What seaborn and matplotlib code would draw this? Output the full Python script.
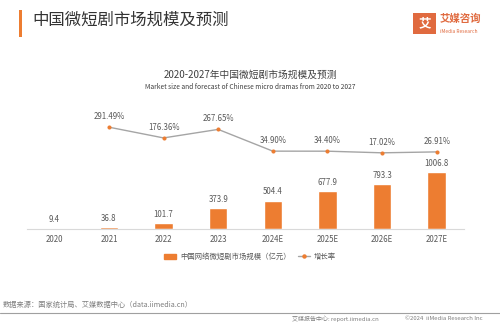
import numpy as np
import pandas as pd
import matplotlib
matplotlib.use("Agg")
import matplotlib.pyplot as plt
import seaborn as sns
from matplotlib.patches import Rectangle
from matplotlib.lines import Line2D

years = ["2020", "2021", "2022", "2023", "2024E", "2025E", "2026E", "2027E"]
market_size = [9.4, 36.8, 101.7, 373.9, 504.4, 677.9, 793.3, 1006.8]
growth = [np.nan, 291.49, 176.36, 267.65, 34.90, 34.40, 17.02, 26.91]
growth_labels = ["", "291.49%", "176.36%", "267.65%", "34.90%", "34.40%", "17.02%", "26.91%"]

sns.set_theme(style="white")
plt.rcParams['font.family'] = ['Noto Sans CJK SC', 'DejaVu Sans']

ORANGE = "#ED7D31"
GRAY = "#A5A5A5"
TXT = "#595959"

df = pd.DataFrame({"year": years, "size": market_size, "growth": growth,
                   "pos": np.arange(len(years))})

fig = plt.figure(figsize=(5, 3.24), dpi=100)
fig.patch.set_facecolor("white")

ax = fig.add_axes([0.054, 0.293, 0.874, 0.398])
sns.barplot(data=df, x="year", y="size", color=ORANGE, width=0.34,
            saturation=1, ax=ax, order=years)
ax.set_xlim(-0.5, len(years) - 0.5)
ax.set_ylim(0, 2280)
ax.set_xlabel("")
ax.set_ylabel("")
ax.set_yticks([])
for s in ["top", "right", "left"]:
    ax.spines[s].set_visible(False)
ax.spines["bottom"].set_color("#D9D9D9")
ax.spines["bottom"].set_linewidth(0.8)
ax.tick_params(axis="x", length=0, labelsize=5.7, colors=TXT, pad=4)
for i, v in enumerate(market_size):
    ax.annotate(f"{v:g}", (i, v), xytext=(0, 3),
                textcoords="offset points", ha="center", va="bottom",
                fontsize=5.7, color=TXT)

ax2 = ax.twinx()
sns.lineplot(data=df, x="pos", y="growth", color=GRAY, linewidth=1.0,
             marker="o", markersize=2.2, markerfacecolor=ORANGE,
             markeredgecolor=ORANGE, ax=ax2, sort=False)
ax2.set_ylim(-799, 581)
ax2.set_yticks([])
ax2.set_ylabel("")
ax2.set_xlabel("")
for s in ["top", "right", "left", "bottom"]:
    ax2.spines[s].set_visible(False)
for i, (v, lab) in enumerate(zip(growth, growth_labels)):
    if lab:
        ax2.annotate(lab, (i, v), xytext=(0, 4.5), textcoords="offset points",
                     ha="center", va="bottom", fontsize=5.7, color=TXT)
ax.set_xticks(range(len(years)))
ax.set_xticklabels(years)

# header
fig.add_artist(Rectangle((0.038, 0.886), 0.006, 0.083, transform=fig.transFigure,
                         color=ORANGE, lw=0))
fig.text(0.064, 0.937, "中国微短剧市场规模及预测", fontsize=11.8, color="#333333",
         va="center", ha="left")
fig.add_artist(Rectangle((0.826, 0.895), 0.046, 0.066, transform=fig.transFigure,
                         color="#E06A3F", lw=0))
fig.text(0.849, 0.928, "艾", fontsize=9, color="white", ha="center", va="center",
         fontweight="bold")
fig.text(0.880, 0.942, "艾媒咨询", fontsize=7.5, color="#E06A3F", ha="left",
         va="center", fontweight="bold")
fig.text(0.880, 0.904, "iMedia Research", fontsize=3.5, color="#E06A3F",
         ha="left", va="center")

# chart titles
fig.text(0.5, 0.770, "2020-2027年中国微短剧市场规模及预测", fontsize=7, color="#404040",
         ha="center", va="center")
fig.text(0.5, 0.731, "Market size and forecast of Chinese micro dramas from 2020 to 2027",
         fontsize=4.8, color="#404040", ha="center", va="center")

# legend
handles = [Rectangle((0, 0), 1, 1, color=ORANGE),
           Line2D([0], [0], color=GRAY, lw=1, marker="o", markersize=2.2,
                  markerfacecolor=ORANGE, markeredgecolor=ORANGE)]
fig.legend(handles, ["中国网络微短剧市场规模（亿元）", "增长率"], loc="center",
           bbox_to_anchor=(0.5, 0.207), ncol=2, frameon=False, fontsize=5.3,
           handlelength=1.6, handleheight=0.6, columnspacing=1.0, handletextpad=0.5,
           labelcolor=TXT)

# footer
fig.text(0.006, 0.060, "数据来源：国家统计局、艾媒数据中心（data.iimedia.cn）", fontsize=5.2,
         color="#7F7F7F", ha="left", va="center")
fig.add_artist(Line2D([0, 1], [0.034, 0.034], transform=fig.transFigure,
                      color="#A0A0A0", lw=0.8))
fig.text(0.585, 0.016, "艾媒报告中心: report.iimedia.cn", fontsize=4.3,
         color="#7F7F7F", ha="left", va="center")
fig.text(0.81, 0.016, "©2024  iiMedia Research Inc", fontsize=4.3,
         color="#7F7F7F", ha="left", va="center")

fig.savefig("out.png", dpi=100, facecolor="white")
